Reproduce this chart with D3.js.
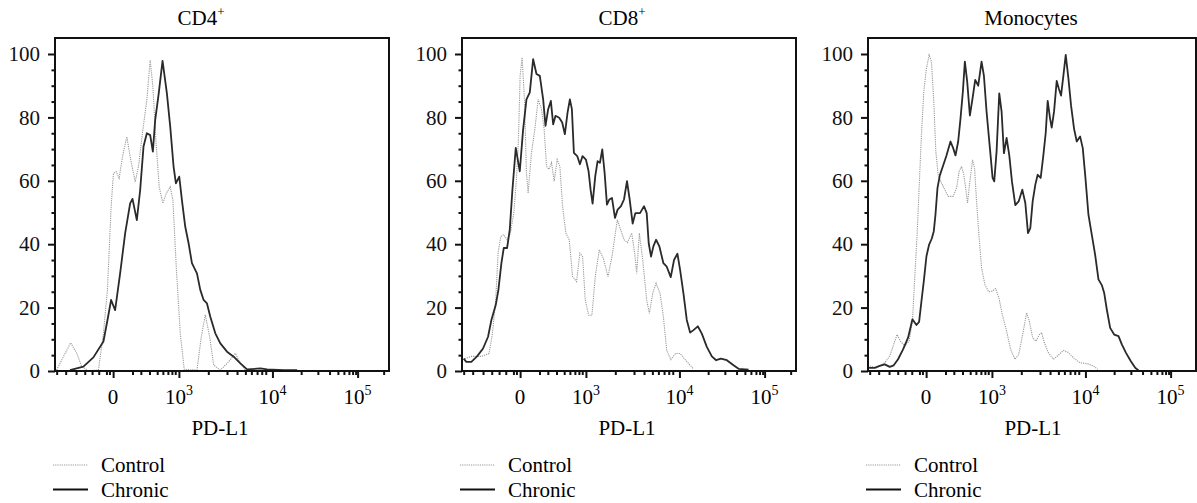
<!DOCTYPE html>
<html>
<head>
<meta charset="utf-8">
<script src="https://cdn.jsdelivr.net/npm/d3@7"></script>
<style>
  body { margin: 0; background: #fff; }
</style>
</head>
<body>
<div id="plot"></div>
<script>
// panel titles
const panelNames = ["CD4", "CD8", "Monocytes"];
const panelSups = ["+", "+", ""];
const axisLabel = "PD-L1";
const seriesNames = ["Control", "Chronic"];

// x axis is in display channels (0..1000 across the frame), logicle-like labels
const xMajorTicks = [174, 371, 651, 906];
const xMajorBase = ["0", "10", "10", "10"];
const xMajorExp = ["", "3", "4", "5"];
const xMinorTicks = [5, 32, 63, 89, 111, 131, 154, 163, 232, 257, 283, 306, 323, 338, 350, 360,
  459, 515, 545, 570, 588, 605, 619, 631, 737, 787, 822, 847, 865, 880, 891, 900, 984];
const yMajorTicks = [0, 20, 40, 60, 80, 100];
const yMinorTicks = [5, 10, 15, 25, 30, 35, 45, 50, 55, 65, 70, 75, 85, 90, 95];

// histograms: [channel, % of max]
const cd4Control = [[5,0.3],[25,4.5],[47,8.9],[65,5.6],[80,1.4],[100,0.1],[130,0.3],[145,11.9],[157,25.6],[168,51.8],[175,62.4],[183,62.9],[192,60.8],[202,67.6],[215,73.9],[225,67.6],[240,59.7],[250,64.5],[263,76],[275,85.5],[285,98.1],[293,89.7],[302,72.9],[312,58.1],[323,52.9],[333,56],[345,58.1],[353,53.9],[363,32.9],[375,11.9],[387,0.5],[425,0.3],[438,10.8],[450,17.7],[463,10.8],[475,1.9],[495,0.3],[520,2.9],[540,5.6],[555,2.4],[570,0.3]];
const cd4Chronic = [[45,0.3],[85,1.4],[115,4.3],[145,9.3],[157,16],[168,22.4],[180,19.2],[195,30.8],[210,43.4],[225,52.9],[232,54.3],[245,47.6],[255,57.1],[265,70.8],[275,75],[285,74.4],[293,69.2],[300,79.2],[310,87.1],[322,97.8],[335,87.6],[345,77.1],[355,64.5],[362,59.2],[372,61.3],[380,53.9],[390,45.5],[400,40.3],[410,34],[425,30.8],[435,25.6],[445,22.4],[455,21.3],[465,17.1],[480,11.9],[495,8.7],[515,6.1],[535,4.5],[555,2.4],[575,0.5],[615,0.8],[635,0.5],[685,0.3],[725,0.3]];
const cd8Control = [[8,3.9],[28,4.6],[58,4.6],[81,5.5],[91,11.8],[101,22.4],[108,37.2],[116,42.4],[125,43],[135,41.4],[145,43.5],[155,49.8],[163,60.4],[169,73.1],[174,93.1],[180,98.9],[187,85.7],[193,62.5],[198,56.2],[208,68.8],[218,76.2],[228,85.7],[238,82.6],[246,76.2],[253,64.6],[260,63.6],[268,65.7],[276,59.9],[285,66.7],[293,64.6],[301,52],[311,43.5],[321,41.4],[331,29.8],[343,28.2],[353,37.2],[361,36.1],[369,22.4],[379,17.6],[389,17.6],[399,29.8],[411,38.2],[423,35.6],[437,29.8],[449,36.1],[465,47.7],[475,44.6],[485,41.4],[495,40.5],[508,43.5],[517,37.2],[523,30.8],[531,43.5],[541,35.1],[553,22.4],[561,18.2],[571,24.5],[581,27.7],[593,24.5],[603,17.1],[613,6.5],[625,3.6],[639,5.5],[653,5.5],[668,3.6],[683,1.8],[693,0.7]];
const cd8Chronic = [[5,3.9],[13,2.9],[28,2.9],[45,4.6],[63,7.1],[78,10.8],[88,16.1],[101,20.8],[109,25.6],[118,34],[125,38.8],[135,38.8],[143,44.6],[151,57.2],[161,70.4],[173,63],[183,76.2],[193,85.7],[203,87.9],[213,98.4],[223,93.7],[233,93.1],[243,85.7],[250,77.3],[258,82.6],[266,85.2],[273,77.8],[280,80.5],[291,79.9],[300,78.4],[308,74.7],[316,81.5],[323,85.7],[329,82.6],[335,68.8],[345,67.8],[353,65.2],[361,67.8],[371,66.7],[379,63],[385,57.2],[391,52.8],[399,61.5],[406,66.2],[413,65.7],[420,69.9],[427,62.5],[434,52.5],[441,54.1],[449,54.6],[458,48.3],[466,50.9],[476,52],[485,54.1],[494,59.9],[502,54.1],[511,46.5],[519,49.8],[533,49.8],[545,52],[553,49.8],[559,40.3],[566,36.1],[573,39.3],[581,41.4],[591,39.3],[603,34],[613,32.9],[625,29.6],[635,35.1],[645,37],[653,31.9],[663,24.5],[673,16.1],[683,12.1],[693,12.9],[706,14.1],[718,11.8],[733,7.6],[748,4.6],[761,3.4],[775,3.9],[793,3.4],[813,1.8],[828,0.7],[858,0.4]];
const monoControl = [[5,1.6],[25,1],[50,2.6],[65,4.7],[77,8.4],[87,11.5],[97,9.4],[110,7.9],[123,9.4],[133,15.7],[140,29.4],[147,43],[153,57.7],[160,74.5],[167,88.1],[175,95.5],[183,99.7],[190,97.6],[197,85],[203,69.3],[210,61.9],[220,59.3],[230,57.2],[240,55.1],[255,55.1],[265,57.7],[273,63],[280,64.5],[287,61.9],[293,57.2],[298,53],[305,59.8],[313,66.6],[319,64],[325,53.5],[332,43],[340,32.5],[350,27.3],[361,25],[372,25.2],[382,26],[392,23.1],[402,17.8],[415,12.6],[427,6.8],[440,3.7],[451,5.2],[463,11.5],[475,18.4],[483,15.7],[493,10.5],[503,9.4],[513,11.5],[520,12.1],[528,8.9],[540,5.8],[555,3.7],[570,5],[585,6.5],[600,5.8],[617,4],[635,2.6],[657,2.3],[675,1.6],[688,0.5]];
const monoChronic = [[3,1],[20,1],[35,1.6],[50,2.1],[65,1.3],[77,1.8],[90,3.7],[105,6.8],[120,10.5],[133,16.3],[145,14.5],[153,15.5],[160,22],[167,28.3],[175,36.2],[183,39.9],[191,41.8],[197,44.1],[202,49.3],[208,57.7],[215,61.7],[225,64.8],[235,68],[247,72.4],[255,70.3],[262,68],[270,72.4],[277,79.7],[284,88.1],[290,97.6],[297,91.3],[305,80.6],[313,86],[321,91.8],[330,90],[340,97.6],[347,93.2],[355,81.8],[365,70.3],[373,60.9],[378,59.8],[385,69.3],[393,87.6],[400,81.8],[407,68.7],[415,73.5],[423,68],[431,59.8],[441,52.3],[451,53.5],[462,57.2],[471,53],[479,43.5],[486,45.1],[493,53.5],[501,58.8],[508,61.9],[517,60.9],[525,68],[532,75],[538,85.2],[545,79.7],[550,76.8],[557,81.8],[565,91.5],[571,89.2],[578,86.9],[585,93.2],[592,99.7],[600,92.3],[608,83.7],[617,76.4],[625,72.4],[635,74],[643,70.3],[651,60.9],[660,49.3],[670,43],[680,36.7],[690,28.9],[700,27.1],[707,24.7],[715,19.4],[725,13.6],[737,11.5],[750,11],[760,8.4],[772,5.8],[787,3.1],[800,1],[810,0.2]];

const panels = [
  { control: cd4Control, chronic: cd4Chronic },
  { control: cd8Control, chronic: cd8Chronic },
  { control: monoControl, chronic: monoChronic },
];

// layout
const width = 1197, height = 503;
const lefts = [55, 462, 868];
const titleX = [201, 622, 1031];
const plotW = 334, plotTop = 38, plotBottom = 371;
const fontSize = 21;
const serif = "'Liberation Serif', 'Times New Roman', 'DejaVu Serif', serif";

const svg = d3.select("#plot").append("svg").attr("width", width).attr("height", height)
  .style("font-family", serif);

panels.forEach((p, i) => {
  const left = lefts[i];
  const x = d3.scaleLinear().domain([0, 1000]).range([left, left + plotW]);
  const y = d3.scaleLinear().domain([0, 100]).range([plotBottom, 54]);
  const frameW = Math.min(plotW, width - 1 - left);
  const g = svg.append("g");

  g.append("clipPath").attr("id", "clip" + i)
    .append("rect").attr("x", left).attr("y", plotTop).attr("width", frameW).attr("height", plotBottom - plotTop);

  const line = d3.line().x(d => x(d[0])).y(d => y(d[1]));

  g.append("path").datum(p.control).attr("d", line)
    .attr("clip-path", `url(#clip${i})`)
    .attr("fill", "none").attr("stroke", "#9a9a9a").attr("stroke-width", 1.1).attr("stroke-dasharray", "1.2,1");
  g.append("path").datum(p.chronic).attr("d", line)
    .attr("clip-path", `url(#clip${i})`)
    .attr("fill", "none").attr("stroke", "#2a2a2a").attr("stroke-width", 1.8).attr("stroke-linejoin", "round");

  // frame
  g.append("rect").attr("x", left).attr("y", plotTop).attr("width", frameW).attr("height", plotBottom - plotTop)
    .attr("fill", "none").attr("stroke", "#111").attr("stroke-width", 2);

  // y axis
  const yMinor = g.append("g").attr("transform", `translate(${left},0)`)
    .call(d3.axisLeft(y).tickValues(yMinorTicks).tickSize(3.5).tickFormat(""));
  const yMajor = g.append("g").attr("transform", `translate(${left},0)`)
    .call(d3.axisLeft(y).tickValues(yMajorTicks).tickSize(7).tickPadding(8));
  [yMinor, yMajor].forEach(a => {
    a.select(".domain").remove();
    a.selectAll("line").attr("stroke", "#111").attr("stroke-width", 2);
    a.attr("font-family", null).attr("font-size", null);
  });
  yMajor.selectAll("text").attr("font-size", fontSize).attr("fill", "#111").style("font-family", serif);

  // x axis
  const inside = v => x(v) <= left + frameW;
  const xMinor = g.append("g").attr("transform", `translate(0,${plotBottom})`)
    .call(d3.axisBottom(x).tickValues(xMinorTicks.filter(inside)).tickSize(4).tickFormat(""));
  const xMajor = g.append("g").attr("transform", `translate(0,${plotBottom})`)
    .call(d3.axisBottom(x).tickValues(xMajorTicks).tickSize(7).tickFormat(""));
  [xMinor, xMajor].forEach(a => {
    a.select(".domain").remove();
    a.selectAll("line").attr("stroke", "#111").attr("stroke-width", 2);
  });
  xMajorTicks.forEach((t, k) => {
    const txt = g.append("text").attr("x", x(t)).attr("y", plotBottom + 33)
      .attr("text-anchor", "middle").attr("font-size", fontSize).style("font-family", serif).text(xMajorBase[k]);
    if (xMajorExp[k]) {
      txt.append("tspan").attr("dy", -9).attr("font-size", 14).text(xMajorExp[k]);
    }
  });

  g.append("text").attr("x", left + plotW / 2 - 2).attr("y", 435)
    .attr("text-anchor", "middle").attr("font-size", fontSize).style("font-family", serif).text(axisLabel);

  // title
  const title = g.append("text").attr("x", titleX[i]).attr("y", 25)
    .attr("text-anchor", "middle").attr("font-size", fontSize).style("font-family", serif).text(panelNames[i]);
  if (panelSups[i]) title.append("tspan").attr("dy", -9).attr("font-size", 13).text(panelSups[i]);

  // legend
  const styles = [
    { stroke: "#9a9a9a", width: 1.1, dash: "1.2,1" },
    { stroke: "#111", width: 2.2, dash: null },
  ];
  seriesNames.forEach((name, k) => {
    const ly = 465 + k * 24.5;
    g.append("line").attr("x1", left - 2).attr("x2", left + 33).attr("y1", ly).attr("y2", ly)
      .attr("stroke", styles[k].stroke).attr("stroke-width", styles[k].width)
      .attr("stroke-dasharray", styles[k].dash);
    g.append("text").attr("x", left + 46).attr("y", ly + 7).attr("font-size", fontSize)
      .style("font-family", serif).text(name);
  });
});
</script>
</body>
</html>
